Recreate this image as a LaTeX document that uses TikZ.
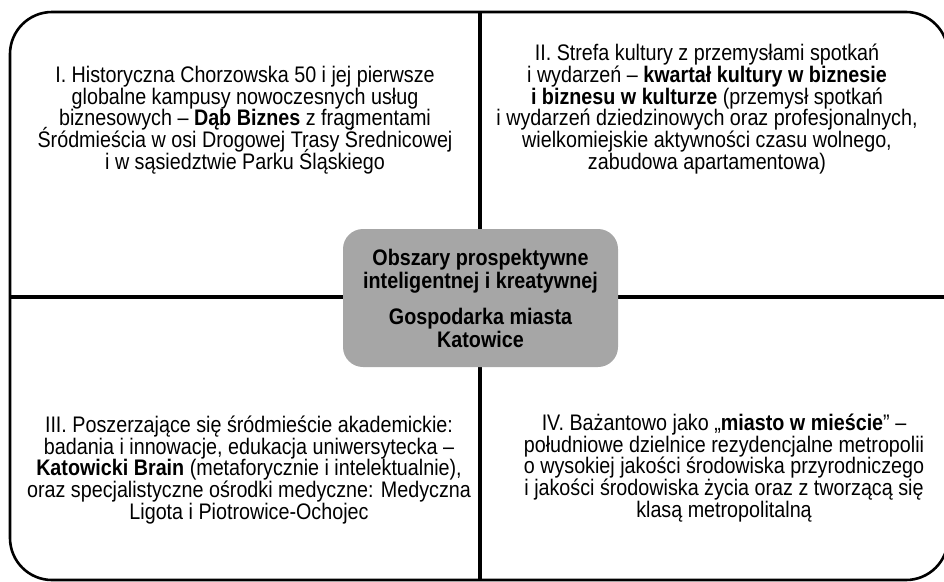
\documentclass[tikz,border=0pt]{standalone}
\usepackage{fontspec}
\setmainfont{Liberation Sans}[FakeStretch=0.877]
\setlength{\lineskiplimit}{-40pt}
\setlength{\lineskip}{0pt}
\definecolor{hubgray}{HTML}{A6A6A6}
\begin{document}
\begin{tikzpicture}[x=1pt,y=-1pt,
  frame/.style={draw=black, line width=2.6pt, rounded corners=42pt},
  divider/.style={draw=black, line width=4.4pt},
  body/.style={align=center, inner sep=0pt, font=\fontsize{22.5}{21.7}\selectfont},
  hub/.style={fill=hubgray, rounded corners=20pt, minimum width=275pt, minimum height=138pt,
    inner sep=0pt, align=center, font=\bfseries\fontsize{22.5}{23}\selectfont}]
\useasboundingbox (0,0) rectangle (944,581);
\clip (0,0) rectangle (944,581);
\draw[frame] (10,12) rectangle (948,580);
\coordinate (vtop) at (480,12);
\coordinate (vbot) at (480,580);
\coordinate (hl) at (10,297);
\coordinate (hr) at (948,297);
\draw[divider] (vtop) -- (vbot);
\draw[divider] (hl) -- (hr);
\node[hub] (hubbox) at (480.5,298) {Obszary prospektywne\\inteligentnej i kreatywnej\\[13pt]Gospodarka miasta\\Katowice};
\node[body] (q1) at (245,120) {I. Historyczna Chorzowska 50 i jej pierwsze\\globalne kampusy nowoczesnych usług\\biznesowych – \textbf{Dąb Biznes} z fragmentami\\Śródmieścia w osi Drogowej Trasy Średnicowej\\i w sąsiedztwie Parku Śląskiego};
\node[body] (q2) at (707,109) {II. Strefa kultury z przemysłami spotkań\\i wydarzeń – \textbf{kwartał kultury w biznesie}\\\textbf{i biznesu w kulturze} (przemysł spotkań\\i wydarzeń dziedzinowych oraz profesjonalnych,\\wielkomiejskie aktywności czasu wolnego,\\zabudowa apartamentowa)};
\node[body] (q3) at (249,470) {III. Poszerzające się śródmieście akademickie:\\badania i innowacje, edukacja uniwersytecka –\\\textbf{Katowicki Brain} (metaforycznie i intelektualnie),\\oraz specjalistyczne ośrodki medyczne: Medyczna\\Ligota i Piotrowice-Ochojec};
\node[body] (q4) at (724,468) {IV. Bażantowo jako „\textbf{miasto w mieście}” –\\południowe dzielnice rezydencjalne metropolii\\o wysokiej jakości środowiska przyrodniczego\\i jakości środowiska życia oraz z tworzącą się\\klasą metropolitalną};
\end{tikzpicture}
\end{document}
